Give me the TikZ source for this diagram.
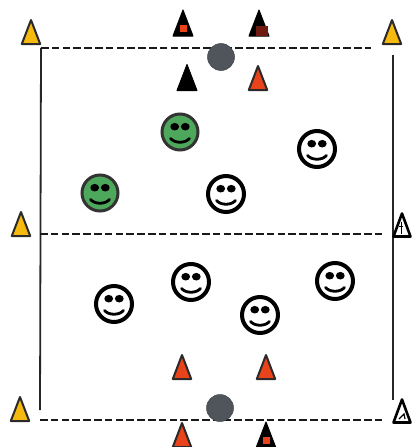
\documentclass[tikz,border=0pt]{standalone}
\definecolor{coneY}{HTML}{F5B90F}
\definecolor{coneR}{HTML}{E8431A}
\definecolor{coneD}{HTML}{2B2A28}
\definecolor{ballC}{HTML}{4F555A}
\definecolor{faceG}{HTML}{4EA85C}
\definecolor{patchD}{HTML}{6E1A10}
\tikzset{
 x=1pt,y=-1pt,
 fieldline/.style={line width=1.8pt,draw=black!85},
 dashline/.style={line width=2.2pt,draw=black!90,dash pattern=on 7.5pt off 3.3pt},
 ballnode/.style={circle,fill=ballC,draw=ballC!80!black,line width=.5pt,minimum size=27pt,inner sep=0pt},
 pics/cone/.style args={#1/#2}{code={
  \path[fill=#1,draw=#2,line width=2pt,line join=round] (0,-12) -- (9.2,12) -- (-9.2,12) -- cycle;
 }},
 pics/whitecone/.style={code={
  \path[fill=white,draw=black,line width=2.6pt,line join=round] (0,-11.5) -- (8.5,11.5) -- (-8.5,11.5) -- cycle;
 }},
 pics/blackcone/.style={code={
  \path[fill=black,draw=black,line width=1pt,line join=round] (0,-13) -- (10,13) -- (-10,13) -- cycle;
  #1
 }},
 pics/smile/.style args={#1/#2/#3}{code={
  \path[fill=#1,draw=#2,line width=#3] (0,0) circle (18);
  \path[fill=black] (-5.3,-5.3) ellipse (4.4 and 3.8) (5.3,-5.3) ellipse (4.4 and 3.8);
  \path[draw=black,line width=2.8pt,line cap=round] (-9.5,6.5) .. controls (-5,11.5) and (5,11.5) .. (9.5,6.5);
 }}
}
\begin{document}
\begin{tikzpicture}
\useasboundingbox[fill=white] (0,0) rectangle (413,447);
\coordinate (tl) at (41,48); \coordinate (tr) at (371,48);
\coordinate (ml) at (40,234); \coordinate (mr) at (382,234);
\coordinate (bl) at (40,420); \coordinate (br) at (382,420);
\coordinate (vl) at (40,410); \coordinate (vrt) at (393,55); \coordinate (vrb) at (393,400);
\draw[fieldline] (tl) -- (vl);
\draw[fieldline] (vrt) -- (vrb);
\draw[dashline] (tl) -- (tr);
\draw[dashline] (ml) -- (mr);
\draw[dashline] (bl) -- (br);
\node[ballnode] (ball1) at (221,57) {};
\node[ballnode] (ball2) at (220,408) {};
% yellow cones
\pic at (31,32) {cone={coneY/coneD}};
\pic at (392,32) {cone={coneY/coneD}};
\pic at (21,224) {cone={coneY/coneD}};
\pic at (20,409) {cone={coneY/coneD}};
% white cones
\pic at (402,225) {whitecone};
\pic at (402,411) {whitecone};
\draw[line width=1pt] (401,222) -- (401,234) (399,226) -- (403,226);
\draw[line width=1.2pt] (399,419) -- (404,414) -- (405,419);
% red cones
\pic at (258,78) {cone={coneR/coneD}};
\pic at (182,367) {cone={coneR/coneD}};
\pic at (266,367) {cone={coneR/coneD}};
\pic at (182,435) {cone={coneR/coneD}};
% black cones
\pic at (183,23) {blackcone={\fill[coneR] (-3.5,2) rectangle (3.5,9);}};
\pic at (259,23) {blackcone={\fill[patchD] (-3,3) rectangle (9,13);}};
\pic at (187,77.5) {blackcone={}};
\pic at (266,435) {blackcone={\fill[coneR] (-3.5,2) rectangle (3.5,9);}};
% players
\pic at (180,132) {smile={faceG/black!80/3pt}};
\pic at (100,193) {smile={faceG/black!80/3pt}};
\pic at (317,149) {smile={white/black/4pt}};
\pic at (226,194) {smile={white/black/4pt}};
\pic at (191,282) {smile={white/black/4pt}};
\pic at (335,281) {smile={white/black/4pt}};
\pic at (114,304) {smile={white/black/4pt}};
\pic at (260,315) {smile={white/black/4pt}};
\end{tikzpicture}
\end{document}
